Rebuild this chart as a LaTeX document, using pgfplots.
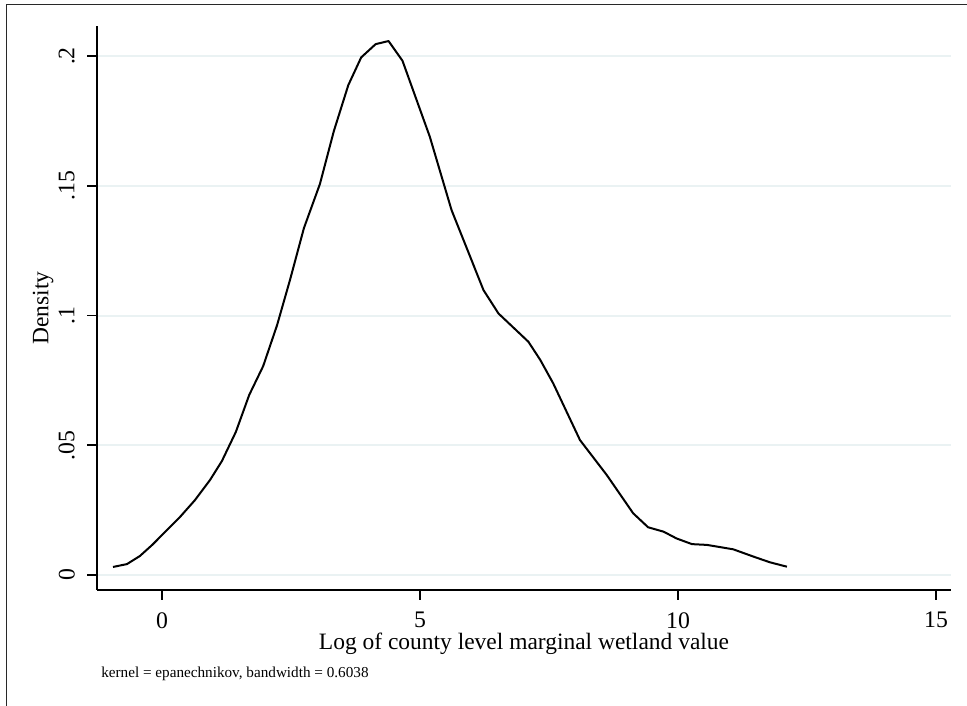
\documentclass[border=0pt]{standalone}
\usepackage{pgfplots}
\pgfplotsset{compat=1.18}
\usepackage{fontspec}
\setmainfont{Liberation Serif}
\definecolor{gridc}{RGB}{234,242,243}
\definecolor{framec}{RGB}{40,40,40}
\begin{document}
\begin{tikzpicture}[x=1pt,y=1pt]
\path[use as bounding box] (0,0) rectangle (725.25,529.5);
\draw[framec, line width=1pt] (4.9,0) -- (4.9,526) -- (725.25,526);
\begin{axis}[
  at={(72.75pt,87pt)}, anchor=south west,
  scale only axis, width=640.5pt, height=423pt,
  xmin=-1.26, xmax=15.29, ymin=-0.00578, ymax=0.2116,
  axis x line*=bottom, axis y line*=left,
  axis line style={black, line width=1.4pt},
  xtick={0,5,10,15}, ytick={0,0.05,0.1,0.15,0.2},
  yticklabels={0,.05,.1,.15,.2},
  tick align=outside, major tick length=7.5pt,
  tick style={black, line width=1.4pt},
  /pgf/number format/assume math mode=true,
  ticklabel style={font=\fontsize{17.8pt}{21pt}\selectfont},
  yticklabel style={rotate=90, anchor=south, inner sep=0pt, yshift=9pt},
  xticklabel style={anchor=north, inner sep=0pt, yshift=-9pt},
  ymajorgrids, grid style={gridc, line width=1.5pt},
  xlabel={Log of county level marginal wetland value},
  ylabel={Density},
  label style={font=\fontsize{17.6pt}{21pt}\selectfont},
  xlabel style={at={(axis description cs:0.5,-0.0957)}, anchor=center},
  ylabel style={at={(axis description cs:-0.0632,0.5)}, anchor=center},
  clip=false,
]
\addplot[black, line width=1.5pt, line join=round] coordinates {
(-0.95,0.0031) (-0.68,0.0042) (-0.43,0.0073) (-0.19,0.0116) (0.06,0.0166)
(0.35,0.0224) (0.64,0.0289) (0.93,0.0366) (1.16,0.0439) (1.43,0.0551)
(1.69,0.0694) (1.96,0.0805) (2.23,0.0963) (2.48,0.1137) (2.75,0.1337)
(3.06,0.1507) (3.33,0.1711) (3.61,0.1888) (3.86,0.1995) (4.14,0.2046)
(4.39,0.2058) (4.66,0.1982) (5.19,0.1689) (5.61,0.1407) (6.23,0.1098)
(6.52,0.1008) (7.10,0.0899) (7.33,0.0829) (7.58,0.0739) (8.10,0.0520)
(8.62,0.0385) (9.13,0.0238) (9.42,0.0184) (9.72,0.0167) (9.97,0.0141)
(10.27,0.0119) (10.56,0.0116) (11.07,0.0099) (11.46,0.0071) (11.78,0.0049)
(12.11,0.0032)
};
\end{axis}
\node[anchor=base west, inner sep=0pt, font=\fontsize{11.4pt}{13pt}\selectfont] at (75.75,21) {kernel = epanechnikov, bandwidth = 0.6038};
\end{tikzpicture}
\end{document}
